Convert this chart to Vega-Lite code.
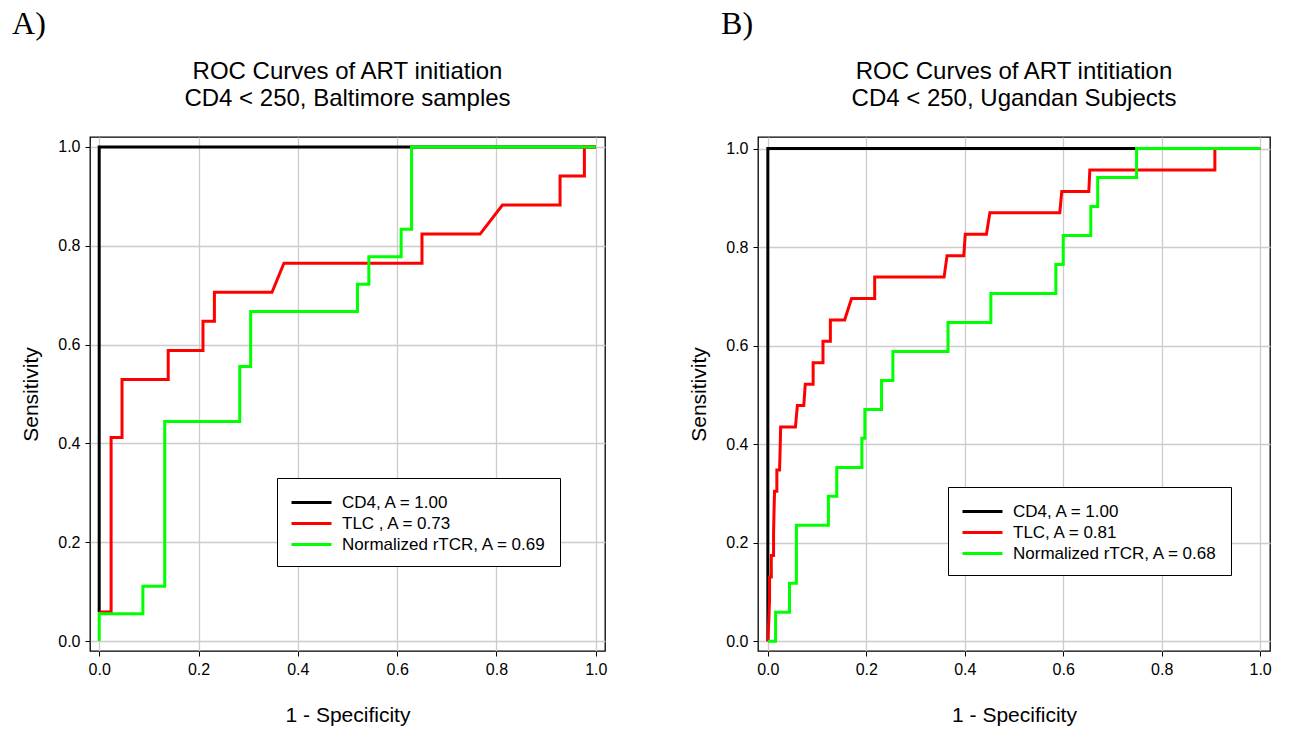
{
  "$schema": "https://vega.github.io/schema/vega-lite/v6.json",
  "background": "white",
  "padding": {"left": 12, "top": 8, "right": 5, "bottom": 5},
  "config": {
    "font": "Liberation Sans",
    "view": {"stroke": "black", "strokeWidth": 1.3},
    "axis": {
      "domain": false, "tickColor": "black", "tickSize": 5, "tickWidth": 1,
      "labelColor": "black", "labelFontSize": 16, "labelFont": "Liberation Sans",
      "titleColor": "black", "titleFontSize": 21, "titleFont": "Liberation Sans", "titleFontWeight": "normal",
      "gridColor": "#cccccc", "gridWidth": 1.3
    },
    "legend": {
      "orient": "none", "direction": "vertical", "strokeColor": "black", "fillColor": "white",
      "padding": 13, "symbolType": "M-1,0H3", "symbolSize": 400, "symbolStrokeWidth": 3,
      "labelFontSize": 17, "labelFont": "Liberation Sans", "labelColor": "black", "labelLimit": 400,
      "rowPadding": 1, "labelOffset": 29
    }
  },
  "datasets": {
    "A": [
      {"s": "CD4, A = 1.00", "i": 0, "x": 0, "y": 0.0588},
      {"s": "CD4, A = 1.00", "i": 1, "x": 0, "y": 1},
      {"s": "CD4, A = 1.00", "i": 2, "x": 1, "y": 1},
      {"s": "TLC , A = 0.73", "i": 0, "x": 0, "y": 0.0588},
      {"s": "TLC , A = 0.73", "i": 1, "x": 0.024, "y": 0.0588},
      {"s": "TLC , A = 0.73", "i": 2, "x": 0.024, "y": 0.4118},
      {"s": "TLC , A = 0.73", "i": 3, "x": 0.046, "y": 0.4118},
      {"s": "TLC , A = 0.73", "i": 4, "x": 0.046, "y": 0.5294},
      {"s": "TLC , A = 0.73", "i": 5, "x": 0.139, "y": 0.5294},
      {"s": "TLC , A = 0.73", "i": 6, "x": 0.139, "y": 0.5882},
      {"s": "TLC , A = 0.73", "i": 7, "x": 0.209, "y": 0.5882},
      {"s": "TLC , A = 0.73", "i": 8, "x": 0.209, "y": 0.6471},
      {"s": "TLC , A = 0.73", "i": 9, "x": 0.232, "y": 0.6471},
      {"s": "TLC , A = 0.73", "i": 10, "x": 0.232, "y": 0.7059},
      {"s": "TLC , A = 0.73", "i": 11, "x": 0.348, "y": 0.7059},
      {"s": "TLC , A = 0.73", "i": 12, "x": 0.372, "y": 0.7647},
      {"s": "TLC , A = 0.73", "i": 13, "x": 0.650, "y": 0.7647},
      {"s": "TLC , A = 0.73", "i": 14, "x": 0.650, "y": 0.8235},
      {"s": "TLC , A = 0.73", "i": 15, "x": 0.767, "y": 0.8235},
      {"s": "TLC , A = 0.73", "i": 16, "x": 0.812, "y": 0.8824},
      {"s": "TLC , A = 0.73", "i": 17, "x": 0.928, "y": 0.8824},
      {"s": "TLC , A = 0.73", "i": 18, "x": 0.928, "y": 0.9412},
      {"s": "TLC , A = 0.73", "i": 19, "x": 0.977, "y": 0.9412},
      {"s": "TLC , A = 0.73", "i": 20, "x": 0.977, "y": 1},
      {"s": "TLC , A = 0.73", "i": 21, "x": 1, "y": 1},
      {"s": "Normalized rTCR, A = 0.69", "i": 0, "x": 0, "y": 0},
      {"s": "Normalized rTCR, A = 0.69", "i": 1, "x": 0, "y": 0.0556},
      {"s": "Normalized rTCR, A = 0.69", "i": 2, "x": 0.088, "y": 0.0556},
      {"s": "Normalized rTCR, A = 0.69", "i": 3, "x": 0.088, "y": 0.1111},
      {"s": "Normalized rTCR, A = 0.69", "i": 4, "x": 0.132, "y": 0.1111},
      {"s": "Normalized rTCR, A = 0.69", "i": 5, "x": 0.132, "y": 0.4444},
      {"s": "Normalized rTCR, A = 0.69", "i": 6, "x": 0.283, "y": 0.4444},
      {"s": "Normalized rTCR, A = 0.69", "i": 7, "x": 0.283, "y": 0.5556},
      {"s": "Normalized rTCR, A = 0.69", "i": 8, "x": 0.305, "y": 0.5556},
      {"s": "Normalized rTCR, A = 0.69", "i": 9, "x": 0.305, "y": 0.6667},
      {"s": "Normalized rTCR, A = 0.69", "i": 10, "x": 0.520, "y": 0.6667},
      {"s": "Normalized rTCR, A = 0.69", "i": 11, "x": 0.520, "y": 0.7222},
      {"s": "Normalized rTCR, A = 0.69", "i": 12, "x": 0.543, "y": 0.7222},
      {"s": "Normalized rTCR, A = 0.69", "i": 13, "x": 0.543, "y": 0.7778},
      {"s": "Normalized rTCR, A = 0.69", "i": 14, "x": 0.608, "y": 0.7778},
      {"s": "Normalized rTCR, A = 0.69", "i": 15, "x": 0.608, "y": 0.8333},
      {"s": "Normalized rTCR, A = 0.69", "i": 16, "x": 0.629, "y": 0.8333},
      {"s": "Normalized rTCR, A = 0.69", "i": 17, "x": 0.629, "y": 1},
      {"s": "Normalized rTCR, A = 0.69", "i": 18, "x": 1, "y": 1}
    ],
    "B": [
      {"s": "CD4, A = 1.00", "i": 0, "x": 0, "y": 0},
      {"s": "CD4, A = 1.00", "i": 1, "x": 0, "y": 1},
      {"s": "CD4, A = 1.00", "i": 2, "x": 1, "y": 1},
      {"s": "TLC, A = 0.81", "i": 0, "x": 0, "y": 0},
      {"s": "TLC, A = 0.81", "i": 1, "x": 0.002, "y": 0.0435},
      {"s": "TLC, A = 0.81", "i": 2, "x": 0.0035, "y": 0.087},
      {"s": "TLC, A = 0.81", "i": 3, "x": 0.0035, "y": 0.1304},
      {"s": "TLC, A = 0.81", "i": 4, "x": 0.007, "y": 0.1304},
      {"s": "TLC, A = 0.81", "i": 5, "x": 0.007, "y": 0.1739},
      {"s": "TLC, A = 0.81", "i": 6, "x": 0.0116, "y": 0.1739},
      {"s": "TLC, A = 0.81", "i": 7, "x": 0.0116, "y": 0.2174},
      {"s": "TLC, A = 0.81", "i": 8, "x": 0.0125, "y": 0.2609},
      {"s": "TLC, A = 0.81", "i": 9, "x": 0.0136, "y": 0.3043},
      {"s": "TLC, A = 0.81", "i": 10, "x": 0.0183, "y": 0.3043},
      {"s": "TLC, A = 0.81", "i": 11, "x": 0.0183, "y": 0.3478},
      {"s": "TLC, A = 0.81", "i": 12, "x": 0.0238, "y": 0.3478},
      {"s": "TLC, A = 0.81", "i": 13, "x": 0.025, "y": 0.3913},
      {"s": "TLC, A = 0.81", "i": 14, "x": 0.026, "y": 0.4348},
      {"s": "TLC, A = 0.81", "i": 15, "x": 0.056, "y": 0.4348},
      {"s": "TLC, A = 0.81", "i": 16, "x": 0.060, "y": 0.4783},
      {"s": "TLC, A = 0.81", "i": 17, "x": 0.073, "y": 0.4783},
      {"s": "TLC, A = 0.81", "i": 18, "x": 0.076, "y": 0.5217},
      {"s": "TLC, A = 0.81", "i": 19, "x": 0.092, "y": 0.5217},
      {"s": "TLC, A = 0.81", "i": 20, "x": 0.092, "y": 0.5652},
      {"s": "TLC, A = 0.81", "i": 21, "x": 0.112, "y": 0.5652},
      {"s": "TLC, A = 0.81", "i": 22, "x": 0.112, "y": 0.6087},
      {"s": "TLC, A = 0.81", "i": 23, "x": 0.127, "y": 0.6087},
      {"s": "TLC, A = 0.81", "i": 24, "x": 0.127, "y": 0.6522},
      {"s": "TLC, A = 0.81", "i": 25, "x": 0.156, "y": 0.6522},
      {"s": "TLC, A = 0.81", "i": 26, "x": 0.170, "y": 0.6957},
      {"s": "TLC, A = 0.81", "i": 27, "x": 0.217, "y": 0.6957},
      {"s": "TLC, A = 0.81", "i": 28, "x": 0.217, "y": 0.7391},
      {"s": "TLC, A = 0.81", "i": 29, "x": 0.358, "y": 0.7391},
      {"s": "TLC, A = 0.81", "i": 30, "x": 0.364, "y": 0.7826},
      {"s": "TLC, A = 0.81", "i": 31, "x": 0.398, "y": 0.7826},
      {"s": "TLC, A = 0.81", "i": 32, "x": 0.401, "y": 0.8261},
      {"s": "TLC, A = 0.81", "i": 33, "x": 0.444, "y": 0.8261},
      {"s": "TLC, A = 0.81", "i": 34, "x": 0.451, "y": 0.8696},
      {"s": "TLC, A = 0.81", "i": 35, "x": 0.593, "y": 0.8696},
      {"s": "TLC, A = 0.81", "i": 36, "x": 0.597, "y": 0.913},
      {"s": "TLC, A = 0.81", "i": 37, "x": 0.652, "y": 0.913},
      {"s": "TLC, A = 0.81", "i": 38, "x": 0.654, "y": 0.9565},
      {"s": "TLC, A = 0.81", "i": 39, "x": 0.908, "y": 0.9565},
      {"s": "TLC, A = 0.81", "i": 40, "x": 0.908, "y": 1},
      {"s": "TLC, A = 0.81", "i": 41, "x": 1, "y": 1},
      {"s": "Normalized rTCR, A = 0.68", "i": 0, "x": 0, "y": 0},
      {"s": "Normalized rTCR, A = 0.68", "i": 1, "x": 0.0157, "y": 0},
      {"s": "Normalized rTCR, A = 0.68", "i": 2, "x": 0.0157, "y": 0.0588},
      {"s": "Normalized rTCR, A = 0.68", "i": 3, "x": 0.044, "y": 0.0588},
      {"s": "Normalized rTCR, A = 0.68", "i": 4, "x": 0.044, "y": 0.1176},
      {"s": "Normalized rTCR, A = 0.68", "i": 5, "x": 0.058, "y": 0.1176},
      {"s": "Normalized rTCR, A = 0.68", "i": 6, "x": 0.058, "y": 0.2353},
      {"s": "Normalized rTCR, A = 0.68", "i": 7, "x": 0.123, "y": 0.2353},
      {"s": "Normalized rTCR, A = 0.68", "i": 8, "x": 0.123, "y": 0.2941},
      {"s": "Normalized rTCR, A = 0.68", "i": 9, "x": 0.140, "y": 0.2941},
      {"s": "Normalized rTCR, A = 0.68", "i": 10, "x": 0.140, "y": 0.3529},
      {"s": "Normalized rTCR, A = 0.68", "i": 11, "x": 0.191, "y": 0.3529},
      {"s": "Normalized rTCR, A = 0.68", "i": 12, "x": 0.191, "y": 0.4118},
      {"s": "Normalized rTCR, A = 0.68", "i": 13, "x": 0.197, "y": 0.4118},
      {"s": "Normalized rTCR, A = 0.68", "i": 14, "x": 0.197, "y": 0.4706},
      {"s": "Normalized rTCR, A = 0.68", "i": 15, "x": 0.231, "y": 0.4706},
      {"s": "Normalized rTCR, A = 0.68", "i": 16, "x": 0.231, "y": 0.5294},
      {"s": "Normalized rTCR, A = 0.68", "i": 17, "x": 0.254, "y": 0.5294},
      {"s": "Normalized rTCR, A = 0.68", "i": 18, "x": 0.254, "y": 0.5882},
      {"s": "Normalized rTCR, A = 0.68", "i": 19, "x": 0.366, "y": 0.5882},
      {"s": "Normalized rTCR, A = 0.68", "i": 20, "x": 0.366, "y": 0.6471},
      {"s": "Normalized rTCR, A = 0.68", "i": 21, "x": 0.453, "y": 0.6471},
      {"s": "Normalized rTCR, A = 0.68", "i": 22, "x": 0.453, "y": 0.7059},
      {"s": "Normalized rTCR, A = 0.68", "i": 23, "x": 0.585, "y": 0.7059},
      {"s": "Normalized rTCR, A = 0.68", "i": 24, "x": 0.585, "y": 0.7647},
      {"s": "Normalized rTCR, A = 0.68", "i": 25, "x": 0.600, "y": 0.7647},
      {"s": "Normalized rTCR, A = 0.68", "i": 26, "x": 0.600, "y": 0.8235},
      {"s": "Normalized rTCR, A = 0.68", "i": 27, "x": 0.656, "y": 0.8235},
      {"s": "Normalized rTCR, A = 0.68", "i": 28, "x": 0.656, "y": 0.8824},
      {"s": "Normalized rTCR, A = 0.68", "i": 29, "x": 0.670, "y": 0.8824},
      {"s": "Normalized rTCR, A = 0.68", "i": 30, "x": 0.670, "y": 0.9412},
      {"s": "Normalized rTCR, A = 0.68", "i": 31, "x": 0.749, "y": 0.9412},
      {"s": "Normalized rTCR, A = 0.68", "i": 32, "x": 0.749, "y": 1},
      {"s": "Normalized rTCR, A = 0.68", "i": 33, "x": 1, "y": 1}
    ]
  },
  "resolve": {"scale": {"color": "independent"}, "legend": {"color": "independent"}},
  "spacing": 80,
  "hconcat": [
    {
      "title": {"text": "A)", "anchor": "start", "font": "Liberation Serif", "fontSize": 32, "fontWeight": "normal", "color": "black", "dx": -8, "offset": 18},
      "vconcat": [
        {
          "width": 515, "height": 514,
          "title": {"text": ["ROC Curves of ART initiation", "CD4 < 250, Baltimore samples"], "font": "Liberation Sans", "fontSize": 24, "fontWeight": "normal", "color": "black", "lineHeight": 27, "offset": 26},
          "data": {"name": "A"},
          "mark": {"type": "line", "strokeWidth": 3},
          "encoding": {
            "x": {"field": "x", "type": "quantitative", "title": "1 - Specificity",
              "scale": {"domain": [-0.0185, 1.0185], "nice": false, "zero": false},
              "axis": {"values": [0, 0.2, 0.4, 0.6, 0.8, 1], "format": ".1f", "labelPadding": 5, "titlePadding": 27}},
            "y": {"field": "y", "type": "quantitative", "title": "Sensitivity",
              "scale": {"domain": [-0.02, 1.02], "nice": false, "zero": false},
              "axis": {"values": [0, 0.2, 0.4, 0.6, 0.8, 1], "format": ".1f", "labelPadding": 5, "titlePadding": 16}},
            "color": {"field": "s", "type": "nominal",
              "scale": {"domain": ["CD4, A = 1.00", "TLC , A = 0.73", "Normalized rTCR, A = 0.69"], "range": ["#000000", "#ff0000", "#00ff00"]},
              "legend": {"title": null, "legendX": 187, "legendY": 341}},
            "order": {"field": "i", "type": "quantitative"}
          }
        }
      ]
    },
    {
      "title": {"text": "B)", "anchor": "start", "font": "Liberation Serif", "fontSize": 32, "fontWeight": "normal", "color": "black", "dx": 33, "offset": 18},
      "vconcat": [
        {
          "width": 512, "height": 514,
          "title": {"text": ["ROC Curves of ART intitiation", "CD4 < 250, Ugandan Subjects"], "font": "Liberation Sans", "fontSize": 24, "fontWeight": "normal", "color": "black", "lineHeight": 27, "offset": 26},
          "data": {"name": "B"},
          "mark": {"type": "line", "strokeWidth": 3},
          "encoding": {
            "x": {"field": "x", "type": "quantitative", "title": "1 - Specificity",
              "scale": {"domain": [-0.02, 1.02], "nice": false, "zero": false},
              "axis": {"values": [0, 0.2, 0.4, 0.6, 0.8, 1], "format": ".1f", "labelPadding": 5, "titlePadding": 27}},
            "y": {"field": "y", "type": "quantitative", "title": "Sensitivity",
              "scale": {"domain": [-0.0197, 1.0234], "nice": false, "zero": false},
              "axis": {"values": [0, 0.2, 0.4, 0.6, 0.8, 1], "format": ".1f", "labelPadding": 5, "titlePadding": 16}},
            "color": {"field": "s", "type": "nominal",
              "scale": {"domain": ["CD4, A = 1.00", "TLC, A = 0.81", "Normalized rTCR, A = 0.68"], "range": ["#000000", "#ff0000", "#00ff00"]},
              "legend": {"title": null, "legendX": 190, "legendY": 350}},
            "order": {"field": "i", "type": "quantitative"}
          }
        }
      ]
    }
  ]
}
